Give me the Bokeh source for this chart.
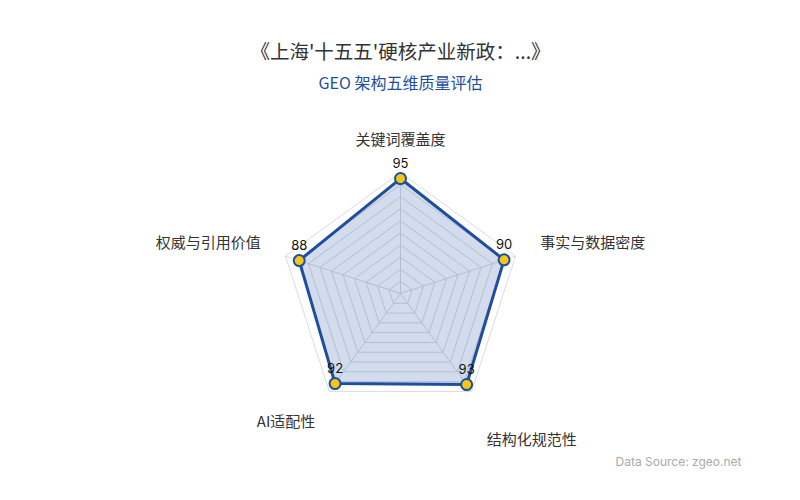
import math
from bokeh.plotting import figure
from bokeh.models import Range1d
from bokeh.core.properties import value
from bokeh.embed import file_html
from bokeh.resources import INLINE

# ---- data ----
title_text = "《上海'十五五'硬核产业新政：...》"
subtitle_text = "GEO 架构五维质量评估"
source_text = "Data Source: zgeo.net"
indicators = ["关键词覆盖度", "权威与引用价值", "AI适配性", "结构化规范性", "事实与数据密度"]
scores = [95, 88, 92, 93, 90]
max_value = 100
grid_levels = [10, 20, 30, 40, 50, 60, 70, 80, 90, 100]

# ---- layout (screen pixel coordinates) ----
W, H = 784, 484
CX, CY = 400, 293
RADIUS = 121  # pixels for max_value
FONT = "Noto Sans CJK SC"

p = figure(width=W, height=H, output_backend="svg", toolbar_location=None,
           x_range=Range1d(0, W), y_range=Range1d(H, 0),
           min_border=0, outline_line_color=None)
p.axis.visible = False
p.grid.visible = False
p.background_fill_color = "white"
p.border_fill_color = "white"

n = len(indicators)
angles = [math.radians(90 + 360.0 * i / n) for i in range(n)]


def pt(v, a):
    r = RADIUS * v / max_value
    return CX + r * math.cos(a), CY - r * math.sin(a)


# grid rings
ring_xs, ring_ys = [], []
for lv in grid_levels:
    pts = [pt(lv, a) for a in angles] + [pt(lv, angles[0])]
    ring_xs.append([q[0] for q in pts])
    ring_ys.append([q[1] for q in pts])
p.multi_line(ring_xs, ring_ys, line_color="#d8dbe2", line_width=1)

# spokes
sp_xs = [[CX, pt(max_value, a)[0]] for a in angles]
sp_ys = [[CY, pt(max_value, a)[1]] for a in angles]
p.multi_line(sp_xs, sp_ys, line_color="#d8dbe2", line_width=1)

# data polygon
dpts = [pt(v, a) for v, a in zip(scores, angles)]
px = [q[0] for q in dpts]
py = [q[1] for q in dpts]
p.patch(px, py, fill_color="#1f4e9e", fill_alpha=0.2, line_color=None)
p.line(px + [px[0]], py + [py[0]], line_color="#1f4e9e", line_width=3, line_join="round")
p.scatter(px, py, size=11, fill_color="#f5c518", line_color="#1f4e9e", line_width=2)

# value labels
p.text(px, [y - 11 for y in py], text=[str(s) for s in scores],
       text_font=value("Inter"), text_font_size="13px", text_color="#111111",
       text_align="center", text_baseline="bottom")

# indicator labels
label_r = 150
label_nudge = [(0, -5), (3, -6), (3, 6), (-2, 24), (-3, -6)]
for name, a, (ndx, ndy) in zip(indicators, angles, label_nudge):
    lx = CX + label_r * math.cos(a) + ndx
    ly = CY - label_r * math.sin(a) + ndy
    c = math.cos(a)
    align = "center" if abs(c) < 0.1 else ("left" if c > 0 else "right")
    p.text([lx], [ly], text=[name], text_font=value(FONT), text_font_size="15px",
           text_color="#333333", text_align=align, text_baseline="middle")

# titles
p.text([400], [50], text=[title_text], text_font=value(FONT), text_font_size="19.5px",
       text_color="#333333", text_align="center", text_baseline="middle")
p.text([400], [81], text=[subtitle_text], text_font=value(FONT), text_font_size="16px",
       text_color="#1f4e9e", text_align="center", text_baseline="middle")
p.text([741], [461], text=[source_text], text_font=value("Inter"), text_font_size="12px",
       text_color="#aaaaaa", text_align="right", text_baseline="middle")

open("out.html", "w").write(file_html(p, INLINE))
